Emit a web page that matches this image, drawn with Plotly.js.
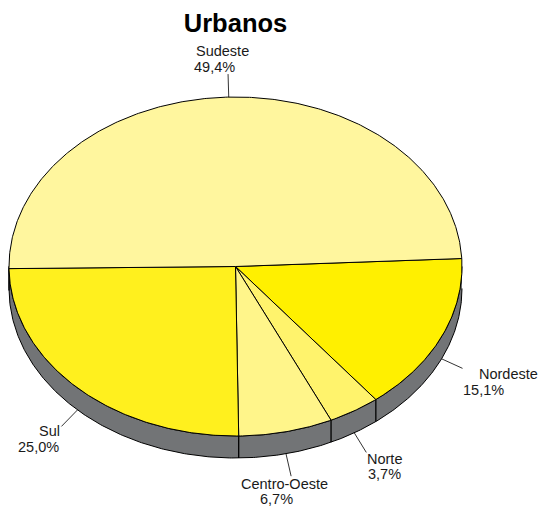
<!DOCTYPE html>
<html><head><meta charset="utf-8">
<script src="https://cdn.plot.ly/plotly-3.0.1.min.js"></script>
<style>html,body{margin:0;padding:0;background:#fff}</style></head>
<body><div id="chart" style="width:539px;height:506px"></div>
<script>
const chartTitle = "Urbanos";
const categories = ["Nordeste","Norte","Centro-Oeste","Sul","Sudeste"];
const values = [15.1,3.7,6.7,25.0,49.4];
const valueLabels = ["15,1%","3,7%","6,7%","25,0%","49,4%"];
const colors = ["#FFF000","#FFF36C","#FFF58A","#FFF01E","#FFF69E"];
const sideColor = "#727476";
const nameAnchors = [[477,374],[384,459],[284,484],[49,431],[222,51]];
const valueAnchors = [[483,390],[384,474],[276,499],[38,447],[214,67]];

const cx=235.5, cy=266.5, rx=226.5, ry=169.5, depth=22, startDeg=-2.7, leader=23;
const total = values.reduce((a,b)=>a+b,0);
const px = d => cx+rx*Math.cos(d*Math.PI/180);
const py = d => cy+ry*Math.sin(d*Math.PI/180);
const arc = (a,b) => { const out=[]; const n=Math.max(2,Math.ceil(Math.abs(b-a)*2));
  for(let i=0;i<=n;i++) out.push(a+(b-a)*i/n); return out; };

const edges=[startDeg];
values.forEach(v=>edges.push(edges[edges.length-1]+v/total*360));

const traces=[];
const line={color:"#000",width:1};
// side wall: the visible lower half of the rim
const rim=arc(0,180), back=rim.slice().reverse();
traces.push({type:"scatter",mode:"lines",fill:"toself",fillcolor:sideColor,line:line,hoverinfo:"skip",showlegend:false,
  x:rim.map(px).concat(back.map(px)),
  y:rim.map(d=>py(d)+depth).concat(back.map(py))});
// vertical edges on the wall
edges.forEach(e=>{ const m=((e%360)+360)%360;
  if(m>0&&m<180) traces.push({type:"scatter",mode:"lines",line:{color:"#000",width:1.3},hoverinfo:"skip",showlegend:false,
    x:[px(m),px(m)],y:[py(m),py(m)+depth]}); });
// top faces
values.forEach((v,i)=>{ const a=arc(edges[i],edges[i+1]);
  traces.push({type:"scatter",mode:"lines",fill:"toself",fillcolor:colors[i],line:line,name:categories[i],
    hoverinfo:"name",showlegend:false,
    x:[cx].concat(a.map(px),[cx]),y:[cy].concat(a.map(py),[cy])}); });
// leaders
const annotations=[];
const labelFont={family:"Liberation Sans, Arial, sans-serif",size:14.5,color:"#1a1a1a"};
values.forEach((v,i)=>{ const mid=(edges[i]+edges[i+1])/2, r=mid*Math.PI/180;
  const lower=Math.sin(r)>0;
  const sx=px(mid), sy=py(mid)+(lower?depth:0);
  traces.push({type:"scatter",mode:"lines",line:{color:"#000",width:0.8},hoverinfo:"skip",showlegend:false,
    x:[sx,sx+leader*Math.cos(r)],y:[sy,sy+leader*Math.sin(r)]});
  annotations.push({x:nameAnchors[i][0],y:nameAnchors[i][1],text:categories[i],xref:"x",yref:"y",showarrow:false,xanchor:i===0?"left":"center",yanchor:"middle",font:labelFont});
  annotations.push({x:valueAnchors[i][0],y:valueAnchors[i][1],text:valueLabels[i],xref:"x",yref:"y",showarrow:false,xanchor:"center",yanchor:"middle",font:labelFont});
});
const axis={visible:false,fixedrange:true,showgrid:false,zeroline:false};
Plotly.newPlot("chart",traces,{
  width:539,height:506,margin:{l:0,r:0,t:0,b:0},paper_bgcolor:"#fff",plot_bgcolor:"#fff",showlegend:false,
  xaxis:Object.assign({range:[0,539]},axis),yaxis:Object.assign({range:[506,0]},axis),
  title:{text:"<b>"+chartTitle+"</b>",x:235.5/539,xanchor:"center",y:1-23/506,yanchor:"middle",font:{family:"Liberation Sans, Arial, sans-serif",size:25.5,color:"#000"}},
  annotations:annotations
},{displayModeBar:false});
</script></body></html>
